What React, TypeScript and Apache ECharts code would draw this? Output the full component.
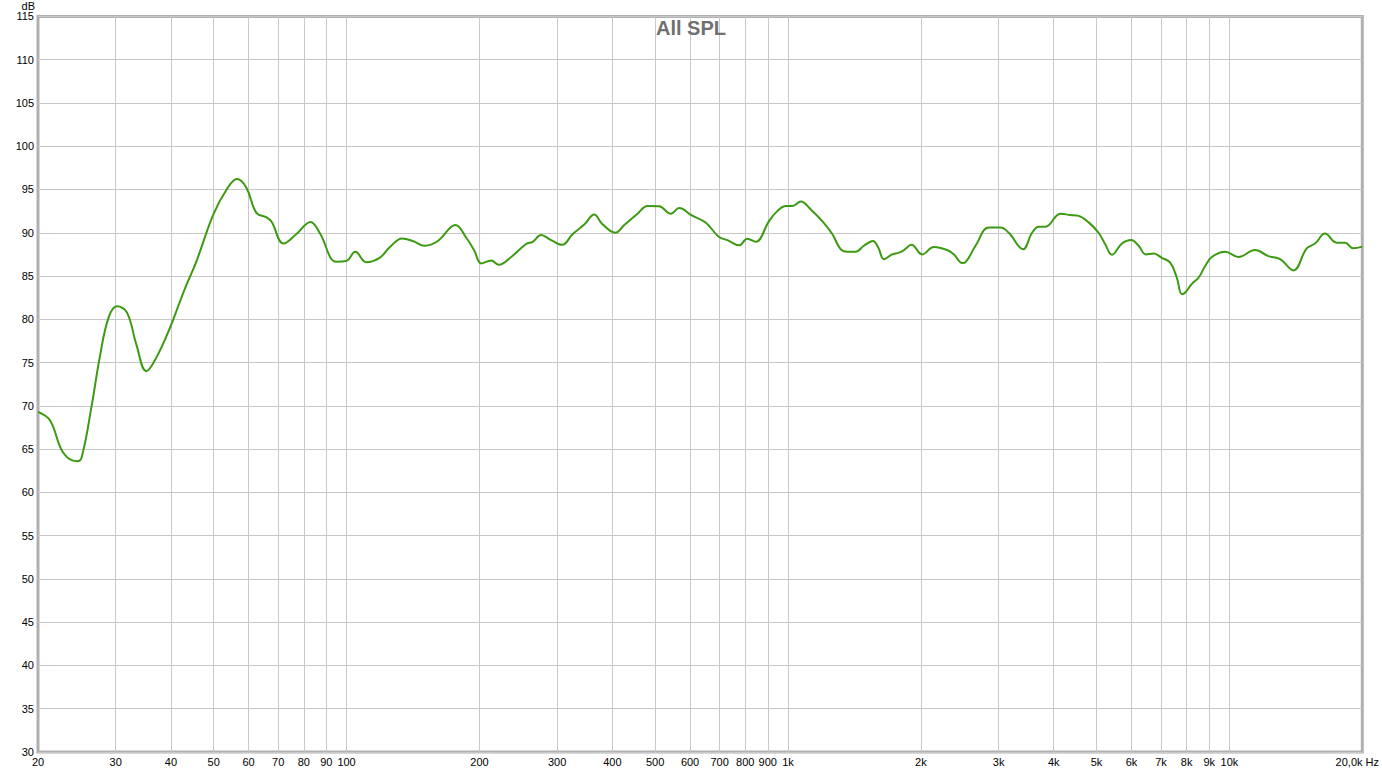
import React, { useEffect, useRef } from "react";
import * as echarts from "echarts";

const freqs: number[] = [
  20, 21.3, 22.8, 24.5, 25.1, 26.5, 27.6, 28.9, 30.2, 31.8, 33.4, 35.2, 37.1, 39.8, 41.9, 43.4, 45.7, 49.9,
  53.5, 56.5, 59.3, 62.5, 65.8, 67.6, 72.0, 77.0, 82.9, 86.9, 94.8, 99.9, 104.7, 110.8, 118.8, 125.1, 133.7,
  141.3, 150.2, 161.0, 176.5, 186.6, 194.9, 201.8, 212.6, 221.3, 236, 255.2, 264, 275.8, 290.6, 307.8, 325.3,
  345.6, 364.1, 379, 406.2, 425.8, 456.3, 480.6, 510.8, 543, 567, 605.6, 651.6, 698, 729, 775, 809, 845, 906,
  946, 988, 1023, 1069, 1126, 1196, 1260, 1316, 1363, 1423, 1486, 1558, 1601, 1650, 1722, 1784, 1831, 1905,
  2014, 2140, 2294, 2376, 2481, 2525, 2660, 2851, 3029, 3164, 3408, 3572, 3698, 3830, 4142, 4364, 4556, 4799,
  5054, 5235, 5419, 5708, 5994, 6226, 6467, 6731, 7030, 7344, 7602, 7804, 7944, 8222, 8511, 8813, 9123, 9781,
  10484, 11434, 12256, 13026, 13964, 14964, 15632, 16470, 17496, 18278, 19082, 20000,
];

const spl: number[] = [
  69.3, 68.3, 64.6, 63.6, 64.0, 70.2, 75.6, 80.2, 81.5, 80.8, 77.1, 74.0, 75.6, 79.0, 82.0, 84.0, 86.7, 92.1,
  95.0, 96.2, 95.2, 92.3, 91.8, 91.3, 88.75, 89.85, 91.25, 90.0, 86.65, 86.75, 87.8, 86.6, 87.1, 88.3, 89.35,
  89.05, 88.5, 89.05, 90.9, 89.45, 87.9, 86.45, 86.8, 86.3, 87.2, 88.7, 88.95, 89.75, 89.15, 88.6, 89.85,
  90.95, 92.1, 91.05, 90.0, 90.9, 92.2, 93.1, 93.05, 92.2, 92.85, 92.0, 91.15, 89.5, 89.15, 88.55, 89.3, 88.95, 91.35,
  92.5, 93.1, 93.1, 93.6, 92.7, 91.35, 89.85, 88.1, 87.8, 87.8, 88.5, 89.05, 88.3, 86.95, 87.5, 87.7, 88.0, 88.6,
  87.5, 88.35, 88.0, 87.5, 86.5, 86.6, 88.5, 90.6, 90.6, 90.0, 88.1, 90.0, 90.7, 90.7, 92.2, 92.05, 91.95, 91.2,
  90.0, 88.65, 87.45, 88.75, 89.15, 88.5, 87.5, 87.6, 87.1, 86.55, 84.8, 82.9, 83.1, 84.1, 84.8, 86.15, 87.2, 87.8,
  87.2, 88.0, 87.3, 86.95, 85.65, 88.2, 88.75, 89.9, 88.85, 88.85, 88.2, 88.4,
];

const gridFreqs: number[] = [
  30, 40, 50, 60, 70, 80, 90, 100, 200, 300, 400, 500, 600, 700, 800, 900,
  1000, 2000, 3000, 4000, 5000, 6000, 7000, 8000, 9000, 10000,
];

const labelFreqs: number[] = [20, ...gridFreqs, 20000];

const title = "All SPL";

export default function App() {
  const ref = useRef<HTMLDivElement>(null);
  useEffect(() => {
    if (!ref.current) return;
    const chart = echarts.init(ref.current, undefined, { renderer: "svg" });
    const font = "'Liberation Sans', Arial, sans-serif";
    chart.setOption({
      animation: false,
      backgroundColor: "#ffffff",
      title: {
        text: title,
        left: "center",
        top: 13,
        textStyle: { fontFamily: font, fontSize: 20, fontWeight: "bold", color: "#707070" },
      },
      grid: {
        left: 38,
        top: 15,
        right: 18,
        bottom: 21,
        show: true,
        borderColor: "#b0b0b0",
        borderWidth: 3,
      },
      xAxis: {
        type: "log",
        logBase: 10,
        min: 20,
        max: 20000,
        axisLine: { show: false },
        axisTick: { show: false, customValues: gridFreqs },
        splitLine: { show: true, lineStyle: { color: "#c8c8c8", width: 1 } },
        minorSplitLine: { show: false },
        axisLabel: {
          customValues: labelFreqs,
          margin: 4,
          fontFamily: font,
          fontSize: 11,
          color: "#000000",
          formatter: (v: number) => {
            if (v >= 20000) return "{e|20,0k Hz}";
            if (v >= 1000) return Math.round(v / 1000) + "k";
            return String(Math.round(v));
          },
          rich: {
            e: { fontFamily: font, fontSize: 11, color: "#000000", padding: [0, 10, 0, 0] },
          },
        },
      },
      yAxis: {
        type: "value",
        min: 30,
        max: 115,
        interval: 5,
        name: "dB",
        nameLocation: "end",
        nameGap: 2,
        nameTextStyle: {
          fontFamily: font,
          fontSize: 11,
          color: "#000000",
          align: "right",
          verticalAlign: "bottom",
          padding: [0, 3, 0, 0],
        },
        axisLine: { show: false },
        axisTick: { show: false },
        splitLine: { show: true, lineStyle: { color: "#c8c8c8", width: 1 } },
        axisLabel: { margin: 4, fontFamily: font, fontSize: 11, color: "#000000" },
      },
      series: [
        {
          type: "line",
          data: freqs.map((f, i) => [f, spl[i]]),
          smooth: 0.4,
          showSymbol: false,
          lineStyle: { color: "#3b9a12", width: 2 },
          itemStyle: { color: "#3b9a12" },
        },
      ],
    });
    return () => chart.dispose();
  }, []);
  return (
    <div
      ref={ref}
      style={{ position: "absolute", left: 0, top: 0, width: 1382, height: 773 }}
    />
  );
}
